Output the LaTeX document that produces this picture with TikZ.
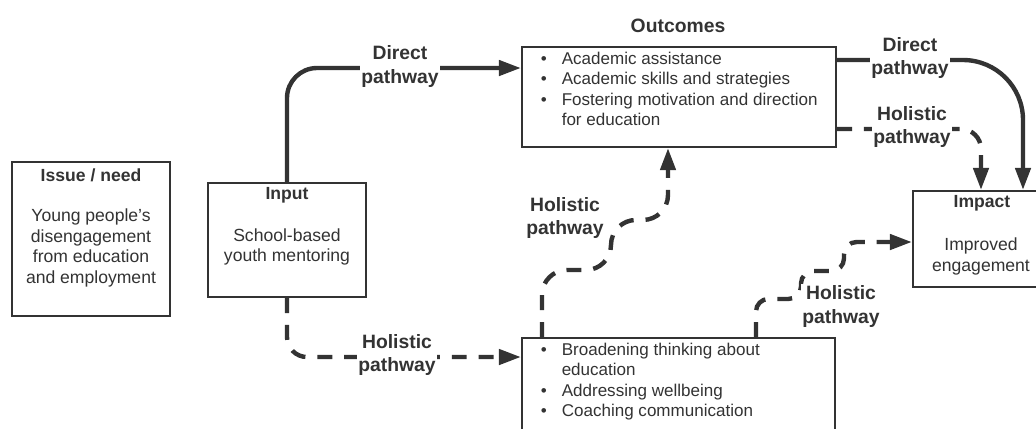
\documentclass[tikz,border=0pt]{standalone}
\usepackage{fontspec}
\setmainfont{Liberation Sans}
\usepackage{tikz}
\usetikzlibrary{arrows.meta,positioning}
\definecolor{ink}{RGB}{51,51,51}
\tikzset{
  box/.style={draw=ink,line width=1.2pt,fill=white,inner sep=0pt},
  boxhead/.style={font=\fontsize{10}{12}\selectfont\bfseries,text=ink,inner sep=0pt},
  boxtext/.style={font=\fontsize{10}{11.7}\selectfont,align=center,text=ink,inner sep=0pt},
  items/.style={font=\fontsize{9.7}{11.7}\selectfont,text=ink,inner sep=0pt,anchor=west},
  pathlbl/.style={font=\fontsize{11}{13.3}\selectfont\bfseries,align=center,fill=white,text=ink,inner sep=1pt},
  direct/.style={-{Triangle[length=4.4mm,width=3mm]},draw=ink,line width=2.5pt},
  holistic/.style={direct,dash pattern=on 8.5pt off 6.8pt}
}
\newcommand{\itemlist}[1]{\begin{tabular}{@{}l@{\hspace{8.5pt}}l@{}}#1\end{tabular}}

\begin{document}
\begin{tikzpicture}
\useasboundingbox (0,0) rectangle (20.72,-8.56);
\node[box,minimum width=3.16cm,minimum height=3.08cm] (issue) at (1.82,-4.78) {};
\node[box,minimum width=3.16cm,minimum height=2.28cm] (input) at (5.74,-4.80) {};
\node[box,minimum width=6.28cm,minimum height=2.0cm] (outA) at (13.58,-1.94) {};
\node[box,minimum width=6.26cm,minimum height=1.84cm] (outB) at (13.57,-7.68) {};
\node[box,minimum width=2.72cm,minimum height=1.92cm] (impact) at (19.62,-4.78) {};

\node[boxhead] (issuehd) at (1.82,-3.50) {Issue / need};
\node[boxtext] (issuetx) at (1.82,-4.96) {Young people's\\disengagement\\from education\\and employment};
\node[boxhead] (inputhd) at (5.74,-3.90) {Input};
\node[boxtext] (inputtx) at (5.74,-4.94) {School-based\\youth mentoring};
\node[boxhead,font=\fontsize{11}{13}\selectfont\bfseries] (outhd) at (13.56,-0.52) {Outcomes};
\node[items] (outAitems) at (10.81,-1.82) {\itemlist{\textbullet & Academic assistance\\
  \textbullet & Academic skills and strategies\\
  \textbullet & Fostering motivation and direction\\
  & for education}};
\node[items] (outBitems) at (10.81,-7.64) {\itemlist{\textbullet & Broadening thinking about\\
  & education\\
  \textbullet & Addressing wellbeing\\
  \textbullet & Coaching communication}};
\node[boxhead] (impacthd) at (19.64,-4.06) {Impact};
\node[boxtext] (impacttx) at (19.62,-5.13) {Improved\\engagement};

\draw[direct,rounded corners=0.6cm] (input.north) |- ([yshift=0.58cm]outA.west);
\draw[direct,rounded corners=1.2cm] ([yshift=0.74cm]outA.east) -| ([xshift=0.84cm]impact.north);
\draw[holistic,rounded corners=0.4cm] ([yshift=-0.64cm]outA.east) -| (impact.north);
\draw[holistic,rounded corners=0.5cm] ([xshift=-2.73cm]outB.north) -- ++(0,1.34) -- ++(1.38,0) -- ++(0,1.0) -| ([xshift=-0.22cm]outA.south);
\draw[holistic,rounded corners=0.25cm] ([xshift=1.55cm]outB.north) -- ++(0,0.76) -- ++(0.9,0) -- ++(0,0.56) -- ++(0.86,0) |- ([yshift=-0.06cm]impact.west);
\draw[holistic,rounded corners=0.4cm] (input.south) |- ([yshift=0.54cm]outB.west);

\node[pathlbl] (dirA) at (8.0,-1.33) {Direct\\pathway};
\node[pathlbl] (dirB) at (18.2,-1.16) {Direct\\pathway};
\node[pathlbl] (holB) at (18.24,-2.54) {Holistic\\pathway};
\node[pathlbl] (holC) at (11.3,-4.36) {Holistic\\pathway};
\node[pathlbl] (holD) at (16.82,-6.13) {Holistic\\pathway};
\node[pathlbl] (holA) at (7.94,-7.10) {Holistic\\pathway};
\end{tikzpicture}
\end{document}
